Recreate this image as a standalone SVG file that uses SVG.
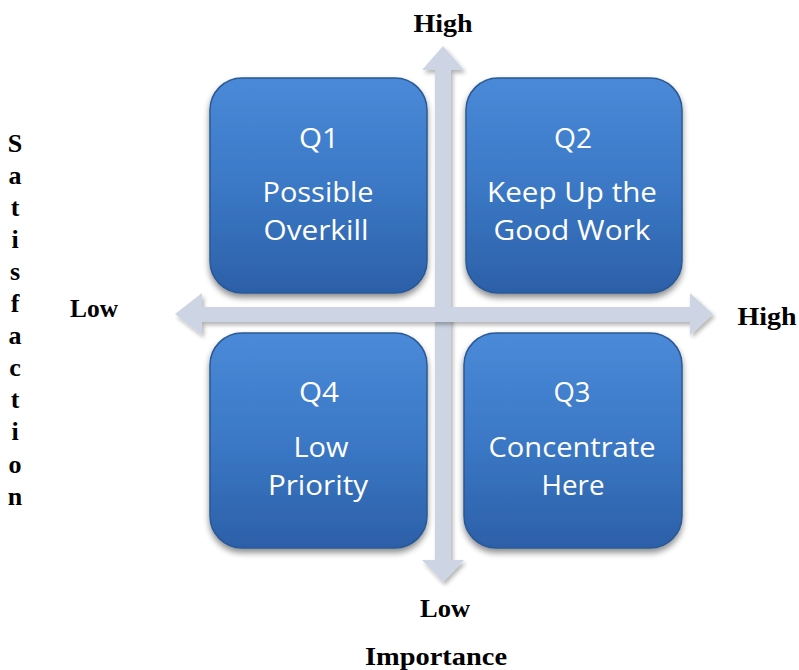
<svg xmlns="http://www.w3.org/2000/svg" width="799" height="670" viewBox="0 0 799 670">
  <defs>
    <linearGradient id="boxFill" x1="0" y1="0" x2="0" y2="1">
      <stop offset="0" stop-color="#4a8ad8"/>
      <stop offset="0.5" stop-color="#3b78c6"/>
      <stop offset="1" stop-color="#2c60a8"/>
    </linearGradient>
    <filter id="boxShadow" x="-10%" y="-10%" width="120%" height="125%">
      <feGaussianBlur in="SourceAlpha" stdDeviation="3"/>
      <feOffset dx="0" dy="4" result="b"/>
      <feComponentTransfer><feFuncA type="linear" slope="0.45"/></feComponentTransfer>
      <feMerge><feMergeNode/><feMergeNode in="SourceGraphic"/></feMerge>
    </filter>
    <filter id="arrowShadow" x="-10%" y="-10%" width="120%" height="120%">
      <feGaussianBlur in="SourceAlpha" stdDeviation="2"/>
      <feOffset dx="2" dy="3"/>
      <feComponentTransfer><feFuncA type="linear" slope="0.3"/></feComponentTransfer>
      <feMerge><feMergeNode/><feMergeNode in="SourceGraphic"/></feMerge>
    </filter>
  </defs>
  <style>
    .box { fill: url(#boxFill); stroke: #2a5894; stroke-width: 1.5; filter: url(#boxShadow); }
    .qt { font-family: "Open Sans", "Noto Sans", sans-serif; font-size: 28px; fill: #ffffff; text-anchor: middle; }
    .axis { fill: #cdd5e5; filter: url(#arrowShadow); }
    .lbl { font-family: "Liberation Serif", "DejaVu Serif", serif; font-weight: bold; font-size: 25px; fill: #000000; text-anchor: middle; }
    .vl { font-family: "Liberation Serif", "DejaVu Serif", serif; font-weight: bold; font-size: 26px; fill: #000000; text-anchor: middle; }
  </style>

  <rect width="799" height="670" fill="#ffffff"/>

  <!-- axes: double-headed arrows crossing at the centre -->
  <g id="connectors">
    <polygon class="axis" points="443,46 464,70 451,70 451,560 464,560 443,582 422,560 435,560 435,70 422,70"/>
    <polygon class="axis" points="175,314 202,293 202,307 690,307 690,293 713,314 690,335 690,322 202,322 202,335"/>
  </g>

  <!-- quadrant boxes -->
  <g id="q1">
    <rect class="box" x="210" y="78" width="217" height="215" rx="32"/>
    <text class="qt" x="319" y="148" textLength="40" lengthAdjust="spacingAndGlyphs">Q1</text>
    <text class="qt" x="318" y="202" textLength="111" lengthAdjust="spacingAndGlyphs">Possible</text>
    <text class="qt" x="316" y="240" textLength="105" lengthAdjust="spacingAndGlyphs">Overkill</text>
  </g>
  <g id="q2">
    <rect class="box" x="466" y="78" width="216" height="215" rx="32"/>
    <text class="qt" x="573" y="148" textLength="38" lengthAdjust="spacingAndGlyphs">Q2</text>
    <text class="qt" x="572" y="202" textLength="170" lengthAdjust="spacingAndGlyphs">Keep Up the</text>
    <text class="qt" x="572" y="240" textLength="157" lengthAdjust="spacingAndGlyphs">Good Work</text>
  </g>
  <g id="q4">
    <rect class="box" x="210" y="333" width="217" height="215" rx="32"/>
    <text class="qt" x="319" y="402" textLength="40" lengthAdjust="spacingAndGlyphs">Q4</text>
    <text class="qt" x="321" y="457" textLength="55" lengthAdjust="spacingAndGlyphs">Low</text>
    <text class="qt" x="318" y="495" textLength="100" lengthAdjust="spacingAndGlyphs">Priority</text>
  </g>
  <g id="q3">
    <rect class="box" x="464" y="333" width="218" height="215" rx="32"/>
    <text class="qt" x="572" y="402" textLength="37" lengthAdjust="spacingAndGlyphs">Q3</text>
    <text class="qt" x="572" y="457" textLength="167" lengthAdjust="spacingAndGlyphs">Concentrate</text>
    <text class="qt" x="573" y="495" textLength="63" lengthAdjust="spacingAndGlyphs">Here</text>
  </g>

  <!-- axis labels -->
  <g id="labels">
    <text class="lbl" x="443" y="32" textLength="59" lengthAdjust="spacingAndGlyphs">High</text>
    <text class="lbl" x="445" y="617" textLength="50" lengthAdjust="spacingAndGlyphs">Low</text>
    <text class="lbl" x="94" y="317" textLength="48" lengthAdjust="spacingAndGlyphs">Low</text>
    <text class="lbl" x="767" y="325" textLength="59" lengthAdjust="spacingAndGlyphs">High</text>
    <text class="lbl" x="436" y="665" textLength="142" lengthAdjust="spacingAndGlyphs">Importance</text>
  </g>

  <!-- vertical axis title, one letter per line -->
  <g id="satisfaction">
    <text class="vl" x="15" y="152">S</text>
    <text class="vl" x="15" y="184">a</text>
    <text class="vl" x="15" y="216">t</text>
    <text class="vl" x="15" y="248">i</text>
    <text class="vl" x="15" y="280">s</text>
    <text class="vl" x="15" y="312">f</text>
    <text class="vl" x="15" y="344">a</text>
    <text class="vl" x="15" y="376">c</text>
    <text class="vl" x="15" y="408">t</text>
    <text class="vl" x="15" y="440">i</text>
    <text class="vl" x="15" y="473">o</text>
    <text class="vl" x="15" y="505">n</text>
  </g>
</svg>
